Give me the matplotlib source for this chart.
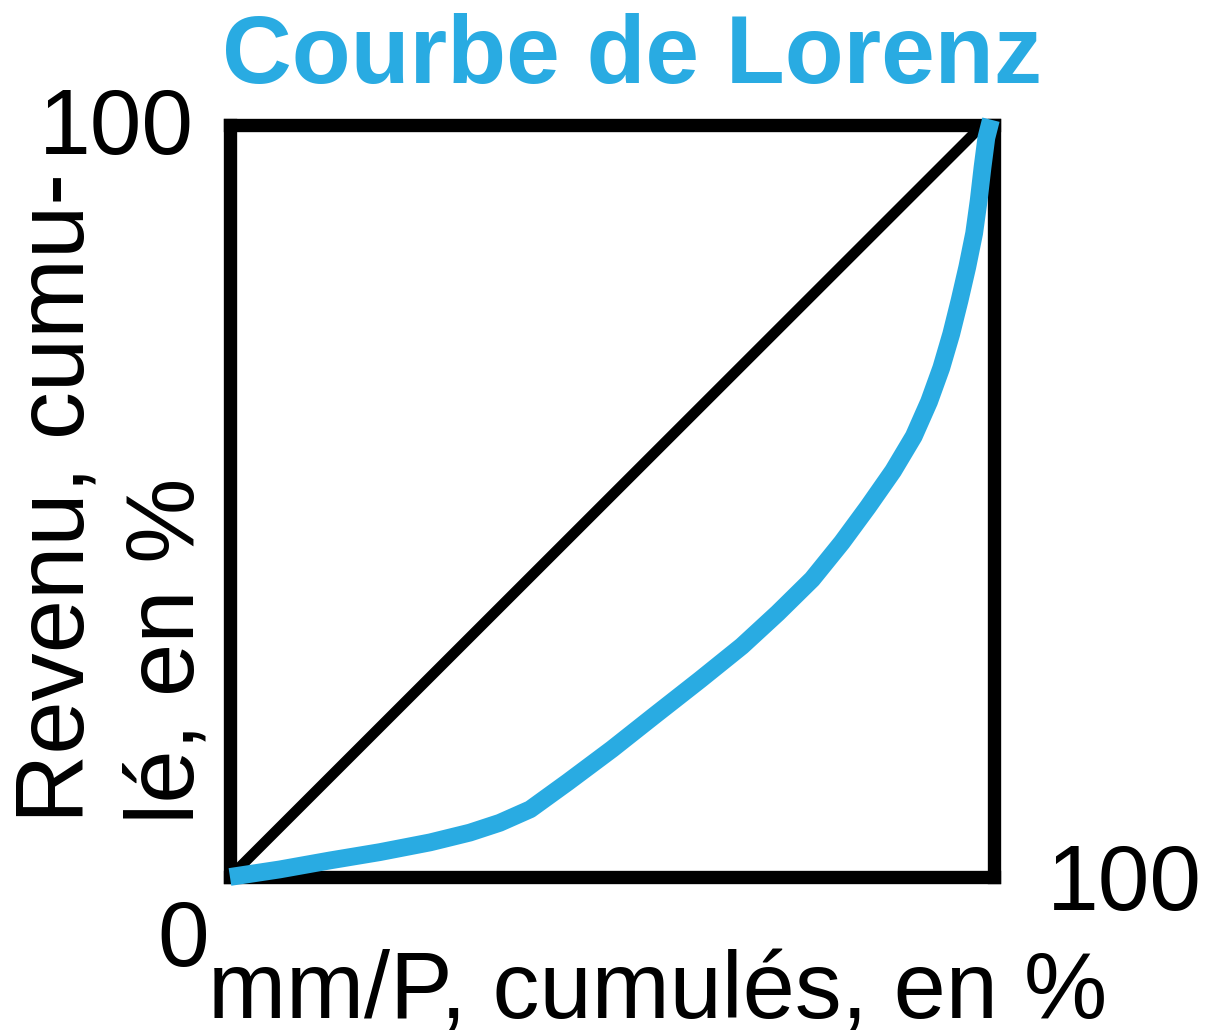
import matplotlib
matplotlib.use('Agg')
import matplotlib.pyplot as plt

plt.rcParams['font.family'] = ['Liberation Sans', 'DejaVu Sans']

# Lorenz curve (cumulated %)
pop_cum = [0, 6.5, 13.1, 19.6, 26.2, 31.4, 35.3, 39.3, 44.2, 50.0, 55.6, 61.5, 67.0,
           71.7, 76.2, 80.1, 83.5, 86.8, 89.5, 91.5, 93.1, 94.4, 95.5, 96.5, 97.4,
           98.0, 98.5, 99.0, 99.6]
rev_cum = [0, 1.0, 2.2, 3.3, 4.6, 5.9, 7.2, 9.0, 12.6, 17.0, 21.5, 26.2, 30.7,
           35.1, 39.6, 44.5, 49.2, 54.0, 58.6, 63.2, 67.7, 72.2, 76.7, 81.1, 85.6,
           90.0, 94.4, 98.3, 100.7]
# line of equality
eq_x = [0, 98.5]
eq_y = [0, 100]

title = 'Courbe de Lorenz'
xlabel = 'mm/P, cumulés, en %'
ylabel_lines = ['Revenu, cumu-', 'lé, en %']
blue = '#29ABE2'

fig = plt.figure(figsize=(12.18, 10.31), dpi=100)
ax = fig.add_axes([0.1888, 0.1494, 0.6273, 0.7294])
ax.set_xlim(0, 100)
ax.set_ylim(0, 100)
ax.set_xticks([])
ax.set_yticks([])
for sp in ax.spines.values():
    sp.set_linewidth(9.6)
    sp.set_color('black')

ax.plot(eq_x, eq_y, color='black', linewidth=7.6, solid_capstyle='butt', zorder=2)
ax.plot(pop_cum, rev_cum, color=blue, linewidth=12.8, solid_capstyle='butt',
        solid_joinstyle='round', zorder=3, clip_on=False)

# texts
ax.text(-1.0, 105.6, title, color=blue, fontsize=69.5, fontweight='bold',
        ha='left', va='baseline', clip_on=False)
ax.text(-4.7, 96.1, '100', fontsize=67, ha='right', va='baseline', clip_on=False)
ax.text(-9.5, -11.8, '0', fontsize=67, ha='left', va='baseline', clip_on=False)
ax.text(106.9, -4.4, '100', fontsize=67, ha='left', va='baseline', clip_on=False)
ax.text(56.0, -18.7, xlabel, fontsize=67.5, ha='center', va='baseline', clip_on=False)
ax.text(-19.2, 7.2, ylabel_lines[0], fontsize=69, rotation=90, rotation_mode='anchor',
        ha='left', va='baseline', clip_on=False)
ax.text(-4.8, 7.1, ylabel_lines[1], fontsize=69, rotation=90, rotation_mode='anchor',
        ha='left', va='baseline', clip_on=False)

fig.savefig('out.png', dpi=100)
